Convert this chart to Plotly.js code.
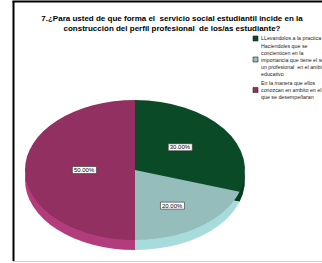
<!DOCTYPE html>
<html>
<head>
<meta charset="utf-8">
<script src="https://cdn.plot.ly/plotly-3.0.1.min.js"></script>
<style>
html,body{margin:0;padding:0;background:#fff;}
#chart{width:322px;height:263px;}
</style>
</head>
<body>
<div id="chart"></div>
<script>
// ---- data ----
const categories = [
  "LLevandolos a la practica",
  "Haciendoles que se<br>concienticen en la<br>importancia que tiene el ser<br>un profesional  en el ambito<br>educativo",
  "En la manera que ellos<br>conozcan en ambito en el<br>que se desempeñaran"
];
const values = [30, 20, 50];
const topColors = ["#0b4a26", "#94bdbb", "#923062"];
const sideColors = ["#083a1d", "#a8dcdc", "#b33c7c"];
const titleLines = [
  "7.¿Para usted de que forma el  servicio social estudiantil incide en la",
  "construcción del perfil profesional  de los/as estudiante?"
];

// ---- layout constants (pixels) ----
const W = 322, H = 263;
const PCX = 135, PCY = 170, RX = 110, RY = 70, DEPTH = 10;
const px = x => x / W;
const py = y => 1 - y / H;

const legendCenters = [38.5, 59.5, 90];
const shapes = [
  {type:'line', xref:'paper', yref:'paper', x0:px(13.5), x1:px(13.5), y0:py(1), y1:py(261), line:{color:'#000', width:2}},
  {type:'line', xref:'paper', yref:'paper', x0:px(12.5), x1:px(322), y0:py(1.5), y1:py(1.5), line:{color:'#000', width:2}},
  {type:'line', xref:'paper', yref:'paper', x0:px(13), x1:px(322), y0:py(261.5), y1:py(261.5), line:{color:'#d0d0d0', width:1}}
];
const annotations = [];
categories.forEach((c, i) => {
  const cy = legendCenters[i];
  shapes.push({type:'rect', xref:'paper', yref:'paper',
    x0:px(253), x1:px(258), y0:py(cy-2.5), y1:py(cy+2.5),
    fillcolor: topColors[i], line:{color:'#222', width:0.6}});
  annotations.push({xref:'paper', yref:'paper', x:px(259), y:py(cy),
    xanchor:'left', yanchor:'middle', align:'left', showarrow:false,
    text:c, font:{family:'Liberation Sans, Arial, sans-serif', size:5.3, color:'#222'}});
});

const traces = [
  {type:'pie', values:values, labels:categories, sort:false, direction:'clockwise', rotation:0,
   marker:{colors:sideColors, line:{width:0}}, textinfo:'none', showlegend:false, hoverinfo:'skip',
   domain:{x:[0,1], y:[0,1]}},
  {type:'pie', values:values, labels:categories, sort:false, direction:'clockwise', rotation:0,
   marker:{colors:topColors, line:{width:0}}, texttemplate:'%{percent:.2%}', textposition:'inside',
   insidetextorientation:'horizontal',
   insidetextfont:{family:'Liberation Sans, Arial, sans-serif', size:6, color:'#000'},
   showlegend:false, hoverinfo:'skip', domain:{x:[0,1], y:[0,1]}}
];

const layout = {
  width:W, height:H, margin:{l:0, r:0, t:0, b:0},
  paper_bgcolor:'#fff', plot_bgcolor:'#fff', showlegend:false,
  title:{text:'<b>' + titleLines.join('<br>') + '</b>', x:px(172), xanchor:'center',
         xref:'paper', yref:'container', y:1 - 20.5/H, yanchor:'middle',
         font:{family:'Liberation Sans, Arial, sans-serif', size:8, color:'#000'}},
  shapes:shapes, annotations:annotations
};

Plotly.newPlot('chart', traces, layout, {staticPlot:true, displayModeBar:false}).then(gd => {
  const svg = gd.querySelector('.main-svg');
  const sr = svg.getBoundingClientRect();
  const groups = gd.querySelectorAll('.pielayer g.trace');
  groups.forEach((g, idx) => {
    const bb = g.getBBox();
    const cx = bb.x + bb.width/2, cy = bb.y + bb.height/2, R = bb.width/2;
    const ty = PCY + (idx === 0 ? DEPTH : 0);
    const sx = RX / R, sy = RY / R;
    const tf = `translate(${PCX},${ty}) scale(${sx},${sy}) translate(${-cx},${-cy})`;
    g.querySelectorAll('path.surface').forEach(p => p.setAttribute('transform', tf));
    if (idx === 1) {
      g.querySelectorAll('g.slicetext').forEach(st => {
        const t = st.querySelector('text');
        if (!t) return;
        const r = t.getBoundingClientRect();
        const x0 = r.left - sr.left, y0 = r.top - sr.top;
        const mx = x0 + r.width/2, my = y0 + r.height/2;
        const nx = PCX + (mx - cx) * sx * 0.92, ny = ty + (my - cy) * sy;
        const rect = document.createElementNS('http://www.w3.org/2000/svg', 'rect');
        rect.setAttribute('x', x0 - 1.5); rect.setAttribute('y', y0 - 0.5);
        rect.setAttribute('width', r.width + 3); rect.setAttribute('height', r.height + 1);
        rect.setAttribute('fill', '#fff'); rect.setAttribute('stroke', '#333'); rect.setAttribute('stroke-width', '0.6');
        st.insertBefore(rect, t);
        st.setAttribute('transform', `translate(${nx - mx},${ny - my})`);
      });
    }
  });
});
</script>
</body>
</html>
